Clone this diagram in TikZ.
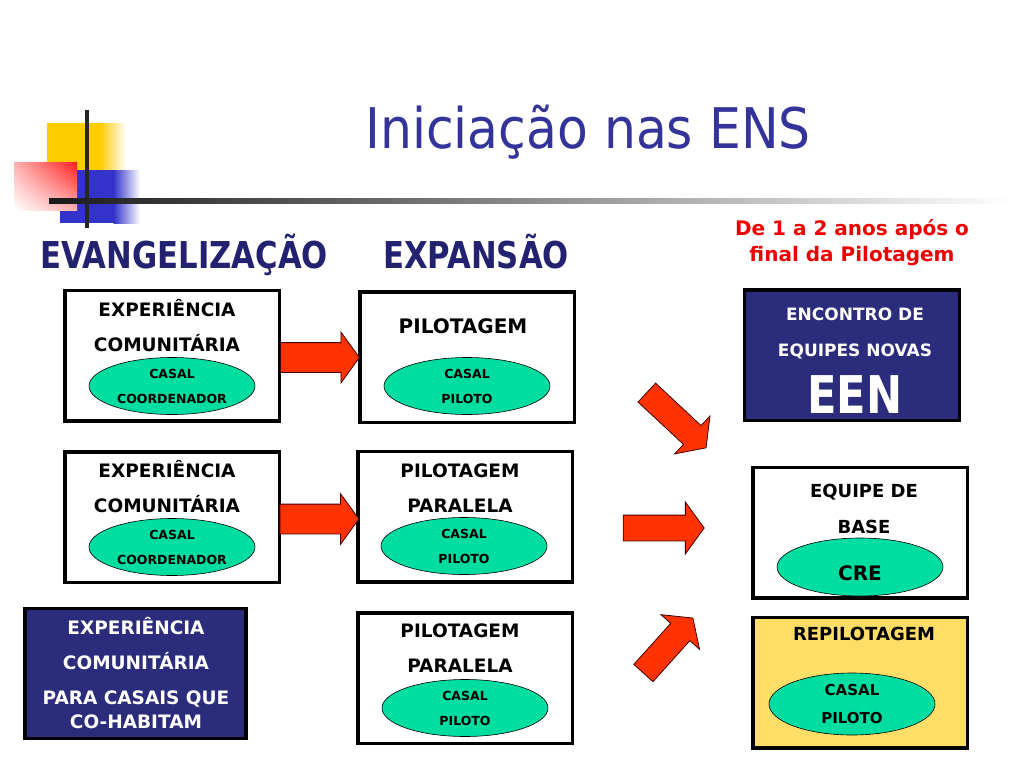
\documentclass[tikz,border=0pt]{standalone}
\usepackage{fontspec}
\setmainfont{DejaVu Sans}
\newfontfamily\titlefont[FakeStretch=0.9]{DejaVu Sans}
\newfontfamily\headfont[FakeStretch=0.83]{DejaVu Sans}
\usetikzlibrary{shapes.geometric,shapes.arrows,shadings}

\definecolor{ens-TitleColor}{RGB}{51,51,153}
\definecolor{ens-HeadColor}{RGB}{34,34,112}
\definecolor{ens-NavyColor}{RGB}{44,44,124}
\definecolor{ens-GreenColor}{RGB}{0,221,160}
\definecolor{ens-ArrowColor}{RGB}{255,51,0}
\definecolor{ens-YellowColor}{RGB}{255,221,102}
\definecolor{ens-NoteColor}{RGB}{238,0,0}
\definecolor{ens-LogoYellow}{RGB}{255,204,0}
\definecolor{ens-LogoBlue}{RGB}{51,51,204}
\definecolor{ens-LogoRed}{RGB}{255,30,30}
\tikzstyle{ens-box-base}=[rectangle,
                          draw=black,
                          line width=3.5pt,
                          inner sep=0pt,
                          minimum width=214.5pt,
                          minimum height=130.5pt,
                         ]
\tikzstyle{ens-box}=[ens-box-base,
                     fill=white]
\tikzstyle{ens-navybox}=[ens-box-base,
                         fill={ens-NavyColor}]
\tikzstyle{ens-heading}=[anchor=base,
                         text={ens-HeadColor},
                         font=\headfont\bfseries\fontsize{37}{40}\selectfont]
\tikzstyle{ens-boxtext}=[anchor=base,
                         font=\bfseries\fontsize{18.5}{35}\selectfont]
\tikzstyle{ens-couple}=[ellipse,
                        draw=black,
                        line width=0.6pt,
                        fill={ens-GreenColor},
                        inner sep=0pt,
                        minimum width=166pt,
                        minimum height=57pt,
                        font=\bfseries\fontsize{12.5}{25}\selectfont]
\tikzstyle{ens-arrow}=[single arrow,
                       draw=black!75!red,
                       line width=0.8pt,
                       fill={ens-ArrowColor},
                       inner xsep=0pt,
                       inner ysep=14.5pt,
                       minimum height=79pt,
                       single arrow head extend=10.5pt,
                       single arrow tip angle=108]
\tikzstyle{ens-arrow-right}=[ens-arrow,
                             inner ysep=12.5pt,
                             minimum height=81pt,
                             single arrow head extend=13pt]

\begin{document}
\begin{tikzpicture}[x=1pt, y=1pt, align=center]
    \fill[white] (0,0) rectangle (1024,-768);
    \useasboundingbox (0,0) rectangle (1024,-768);

    % Logo
    % --------------------------------------------------------------------------
    \fill[ens-LogoYellow] (47,-123) rectangle (100,-172);
    \shade[left color=ens-LogoYellow, right color=white] (99.5,-123) rectangle (126,-172);
    \fill[ens-LogoBlue] (60,-170) rectangle (114,-223);
    \shade[left color=ens-LogoBlue, right color=white] (113.5,-170) rectangle (140,-223);
    \shade[upper left=ens-LogoRed!35, upper right=ens-LogoRed,
           lower left=white, lower right=ens-LogoRed!35] (14,-162) rectangle (77,-210);
    \fill[black!85] (85,-110) rectangle (89,-228);
    \shade[left color=black!90, middle color=black!60, right color=white] (49,-198) rectangle (1012,-203);

    % Titles
    % --------------------------------------------------------------------------
    \node at (588,-148) (title) [anchor=base, text=ens-TitleColor,
          font=\titlefont\fontsize{56}{60}\selectfont] {Iniciação nas ENS};
    \node at (184,-268) (evangelizacao) [ens-heading] {EVANGELIZAÇÃO};
    \node at (476,-268) (expansao)      [ens-heading] {EXPANSÃO};
    \node at (852,-261) (note) [anchor=base, text=ens-NoteColor,
          font=\bfseries\fontsize{20}{26}\selectfont] {De 1 a 2 anos após o\\final da Pilotagem};

    % Boxes
    % --------------------------------------------------------------------------
    \node at (172,-355.5) (exp_box1)   [ens-box] {};
    \node at (467,-357)   (pil_box1)   [ens-box] {};
    \node at (172,-517)   (exp_box2)   [ens-box] {};
    \node at (465,-516.5) (pil_box2)   [ens-box] {};
    \node at (135.5,-673.5) (cohab_box) [ens-navybox, minimum width=221pt, minimum height=130pt] {};
    \node at (465,-678)   (pil_box3)   [ens-box] {};
    \node at (852,-355)   (een_box)    [ens-navybox, minimum width=215pt] {};
    \node at (860,-532.5) (base_box)   [ens-box] {};
    \node at (860,-682.5) (repil_box)  [ens-box, fill=ens-YellowColor] {};

    % Texts (base = last line)
    % --------------------------------------------------------------------------
    \node at (167,-351) (exp_text1) [ens-boxtext] {EXPERIÊNCIA\\COMUNITÁRIA};
    \node at (463,-333) (pil_text1) [ens-boxtext, font=\bfseries\fontsize{20}{35}\selectfont] {PILOTAGEM};
    \node at (167,-512) (exp_text2) [ens-boxtext] {EXPERIÊNCIA\\COMUNITÁRIA};
    \node at (460,-512) (pil_text2) [ens-boxtext] {PILOTAGEM\\PARALELA};
    \node at (136,-728) (cohab_text) [ens-boxtext, text=white] {EXPERIÊNCIA\\COMUNITÁRIA\\PARA CASAIS QUE\\[-11pt]CO-HABITAM};
    \node at (460,-672) (pil_text3) [ens-boxtext] {PILOTAGEM\\PARALELA};
    \node at (855,-356) (een_text)  [ens-boxtext, text=white, font=\bfseries\fontsize{17}{36}\selectfont] {ENCONTRO DE\\EQUIPES NOVAS};
    \node at (855,-413) (een)       [anchor=base, text=white, font=\headfont\bfseries\fontsize{52}{52}\selectfont] {EEN};
    \node at (864,-533) (base_text) [ens-boxtext, font=\bfseries\fontsize{18}{36}\selectfont] {EQUIPE DE\\BASE};
    \node at (864,-640) (repil_text) [ens-boxtext, font=\bfseries\fontsize{18}{36}\selectfont] {REPILOTAGEM};

    % Couples
    % --------------------------------------------------------------------------
    \node at (172,-386) (casal_exp1) [ens-couple] {CASAL\\COORDENADOR};
    \node at (467,-386) (casal_pil1) [ens-couple] {CASAL\\PILOTO};
    \node at (172,-547) (casal_exp2) [ens-couple] {CASAL\\COORDENADOR};
    \node at (464,-546) (casal_pil2) [ens-couple] {CASAL\\PILOTO};
    \node at (465,-708) (casal_pil3) [ens-couple] {CASAL\\PILOTO};
    \node at (860,-567) (cre) [ens-couple, minimum height=58pt, text height=26pt, text depth=0pt,
          font=\bfseries\fontsize{20}{24}\selectfont] {CRE};
    \node at (852,-704) (casal_repil) [ens-couple, minimum height=62pt,
          font=\bfseries\fontsize{15}{28}\selectfont] {CASAL\\PILOTO};

    % Arrows
    % --------------------------------------------------------------------------
    \node at (314.5,-357.5) (arrow_exp1) [ens-arrow] {};
    \node at (314,-519)     (arrow_exp2) [ens-arrow] {};
    \node at (673,-417)   (arrow_een)   [ens-arrow-right, rotate=-43] {};
    \node at (659,-528)   (arrow_base)  [ens-arrow-right] {};
    \node at (665,-649)   (arrow_repil) [ens-arrow-right, minimum height=74pt, rotate=48] {};

\end{tikzpicture}
\end{document}
